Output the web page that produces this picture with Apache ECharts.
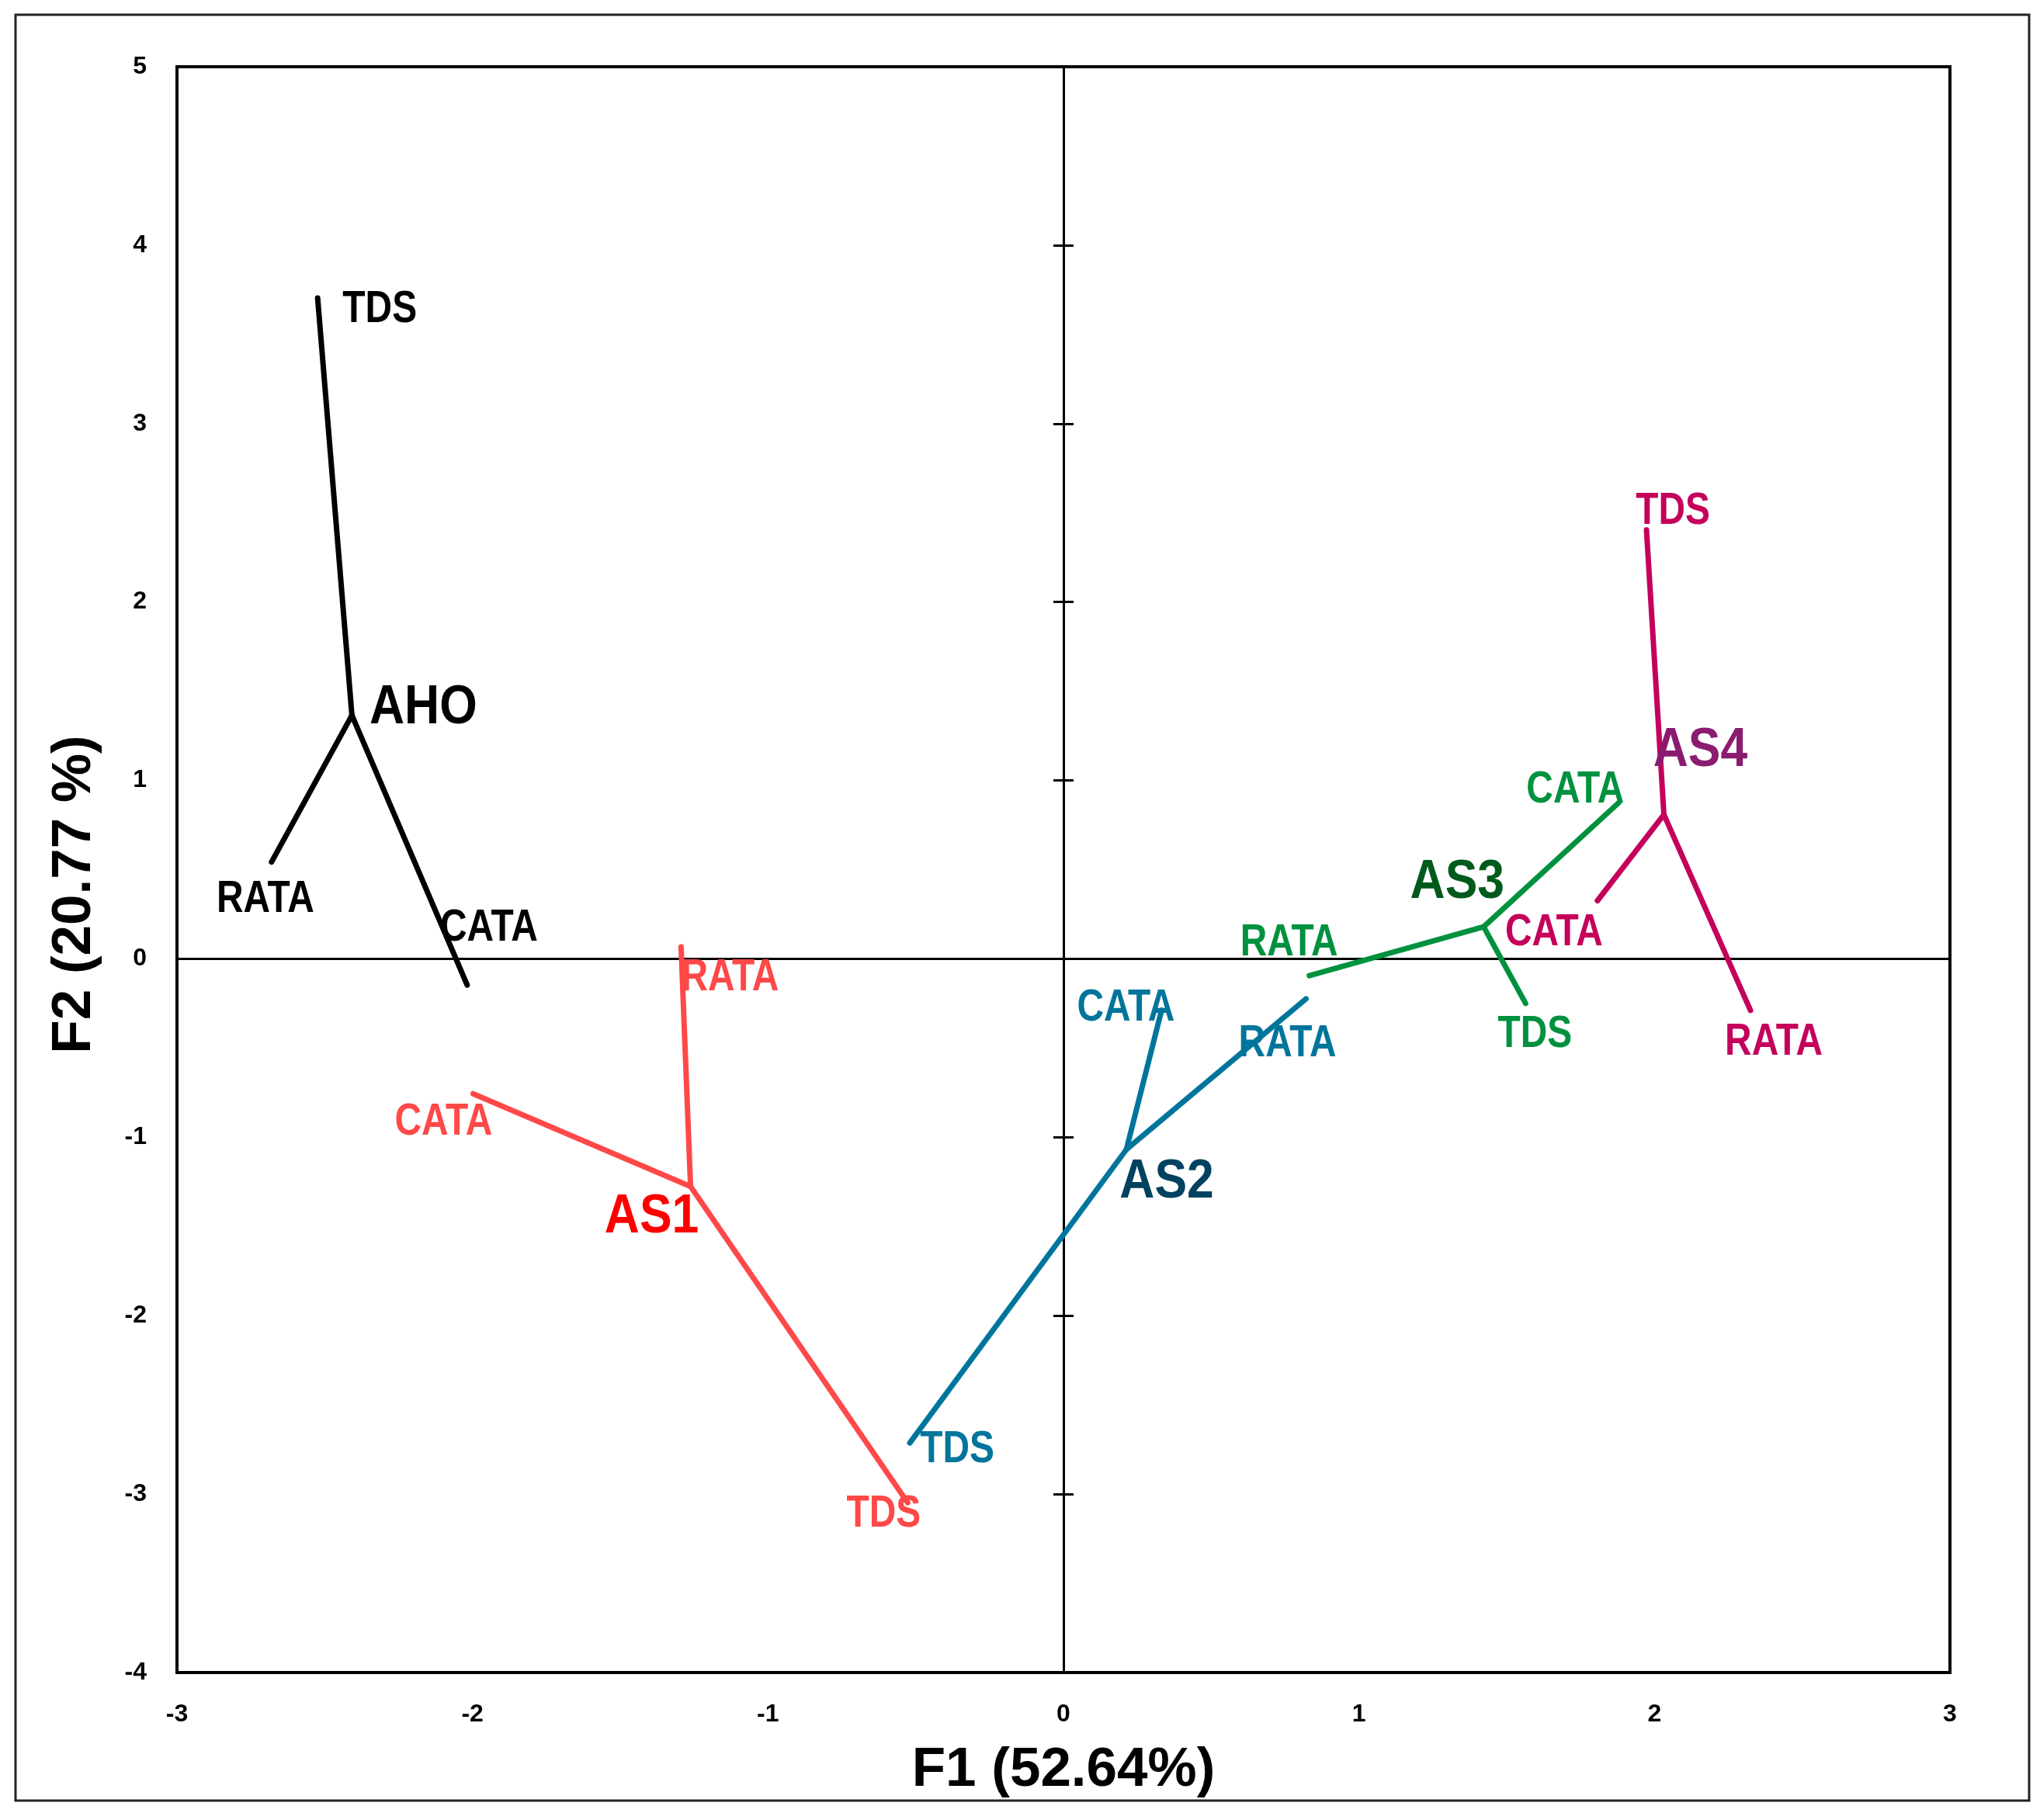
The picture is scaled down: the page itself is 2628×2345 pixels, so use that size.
<!DOCTYPE html>
<html><head><meta charset="utf-8">
<script src="https://cdn.jsdelivr.net/npm/echarts@6/dist/echarts.min.js"></script>
<style>html,body{margin:0;padding:0;background:#fff}#c{width:2628px;height:2345px}</style>
</head><body><div id="c"></div>
<script>
// ---- data ----
const groups = ['AHO', 'AS1', 'AS2', 'AS3', 'AS4'];
const attributes = ['TDS', 'RATA', 'CATA'];
const centerF1 = [-2.408, -1.262, 0.213, 1.422, 2.032];
const centerF2 = [1.365, -1.276, -1.068, 0.180, 0.808];
const tdsF1 = [-2.524, -0.527, -0.520, 1.564, 1.973];
const tdsF2 = [3.704, -3.048, -2.713, -0.250, 2.404];
const rataF1 = [-2.680, -1.294, 0.821, 0.832, 2.325];
const rataF2 = [0.543, 0.067, -0.224, -0.094, -0.289];
const cataF1 = [-2.018, -1.998, 0.332, 1.879, 1.807];
const cataF2 = [-0.147, -0.756, -0.288, 0.875, 0.326];
const xRange = [-3, 3];
const yRange = [-4, 5];
const xTitle = 'F1 (52.64%)';
const yTitle = 'F2 (20.77 %)';

// ---- style / layout ----
const lineColors = ['#000000', '#FF4848', '#00759C', '#00913F', '#C4005B'];
const centerColors = ['#000000', '#FF0000', '#00425F', '#005A1C', '#8A1C70'];
const centerLabelOffset = [[92, -9], [-50, 40], [52, 42], [-34, -57], [47, -82]];
const endLabelOffset = {
  TDS: [[80, 15], [-31, 15], [61, 9], [12, 40], [34, -24]],
  RATA: [[-8, 49], [63, 40], [-24, 58], [-26, -42], [30, 41]],
  CATA: [[28, -73], [-38, 37], [-46, -2], [-56, -16], [-56, 42]]
};
const wide = "'Liberation Sans', Arial, sans-serif";

const endX = { TDS: tdsF1, RATA: rataF1, CATA: cataF1 };
const endY = { TDS: tdsF2, RATA: rataF2, CATA: cataF2 };

const series = [];
groups.forEach((g, gi) => {
  attributes.forEach(a => {
    series.push({
      type: 'line', xAxisIndex: 0, yAxisIndex: 0, silent: true,
      showSymbol: false, symbol: 'none', animation: false, z: 3,
      lineStyle: { color: lineColors[gi], width: 7, cap: 'round' },
      data: [[centerF1[gi], centerF2[gi]], [endX[a][gi], endY[a][gi]]]
    });
  });
});

// label meta (text, colour, offset) kept apart from the values
const labelData = [];
const labelMeta = [];
groups.forEach((g, gi) => {
  attributes.forEach(a => {
    labelData.push([endX[a][gi], endY[a][gi]]);
    labelMeta.push({ text: a, color: lineColors[gi], off: endLabelOffset[a][gi], size: 57, sx: 0.84 });
  });
  labelData.push([centerF1[gi], centerF2[gi]]);
  labelMeta.push({ text: g, color: centerColors[gi], off: centerLabelOffset[gi], size: 71, sx: 0.88 });
});

series.push({
  type: 'custom', silent: true, animation: false, z: 5, clip: false,
  data: labelData,
  renderItem: function (params, api) {
    const m = labelMeta[params.dataIndex];
    const p = api.coord([api.value(0), api.value(1)]);
    return {
      type: 'text', x: p[0] + m.off[0], y: p[1] + m.off[1], scaleX: m.sx,
      style: { text: m.text, fill: m.color, fontFamily: wide, fontWeight: 'bold',
        fontSize: m.size, align: 'center', verticalAlign: 'middle' }
    };
  }
});

const tickLabel = { fontFamily: wide, fontWeight: 'bold', fontSize: 32, color: '#000' };
const hidden = { show: false };
const chart = echarts.init(document.getElementById('c'), null, { renderer: 'canvas', devicePixelRatio: 1 });
chart.setOption({
  animation: false,
  backgroundColor: '#fff',
  graphic: [{ type: 'rect', z: -1, shape: { x: 20, y: 19, width: 2594, height: 2301 },
    style: { fill: 'none', stroke: '#222', lineWidth: 3 } }],
  grid: { left: 228, right: 116, top: 86, bottom: 190, show: true, borderColor: '#000', borderWidth: 4, backgroundColor: 'transparent' },
  xAxis: [
    { type: 'value', min: xRange[0], max: xRange[1], interval: 1, position: 'bottom',
      axisLine: { show: false, onZero: false }, axisTick: hidden, splitLine: hidden,
      axisLabel: Object.assign({ margin: 38 }, tickLabel),
      name: xTitle, nameLocation: 'middle', nameGap: 91,
      nameTextStyle: { fontFamily: wide, fontWeight: 'bold', fontSize: 71, color: '#000' } },
    { type: 'value', min: xRange[0], max: xRange[1], interval: 1, position: 'bottom',
      axisLine: { show: true, onZero: true, onZeroAxisIndex: 0, lineStyle: { color: '#000', width: 3 } },
      axisTick: hidden, axisLabel: hidden, splitLine: hidden }
  ],
  yAxis: [
    { type: 'value', min: yRange[0], max: yRange[1], interval: 1, position: 'left',
      axisLine: { show: false, onZero: false }, axisTick: hidden, splitLine: hidden,
      axisLabel: Object.assign({ margin: 39 }, tickLabel),
      name: yTitle, nameLocation: 'middle', nameGap: 96,
      nameTextStyle: { fontFamily: wide, fontWeight: 'bold', fontSize: 71, color: '#000', padding: [0, 64, 0, 0] } },
    { type: 'value', min: yRange[0], max: yRange[1], interval: 1, position: 'left',
      axisLine: { show: true, onZero: true, onZeroAxisIndex: 0, lineStyle: { color: '#000', width: 3 } },
      axisTick: { show: true, inside: true, length: 13, lineStyle: { color: '#000', width: 3 } },
      axisLabel: hidden, splitLine: hidden },
    { type: 'value', min: yRange[0], max: yRange[1], interval: 1, position: 'left',
      axisLine: { show: false, onZero: true, onZeroAxisIndex: 0 },
      axisTick: { show: true, inside: false, length: 13, lineStyle: { color: '#000', width: 3 } },
      axisLabel: hidden, splitLine: hidden }
  ],
  series: series
});
</script></body></html>
